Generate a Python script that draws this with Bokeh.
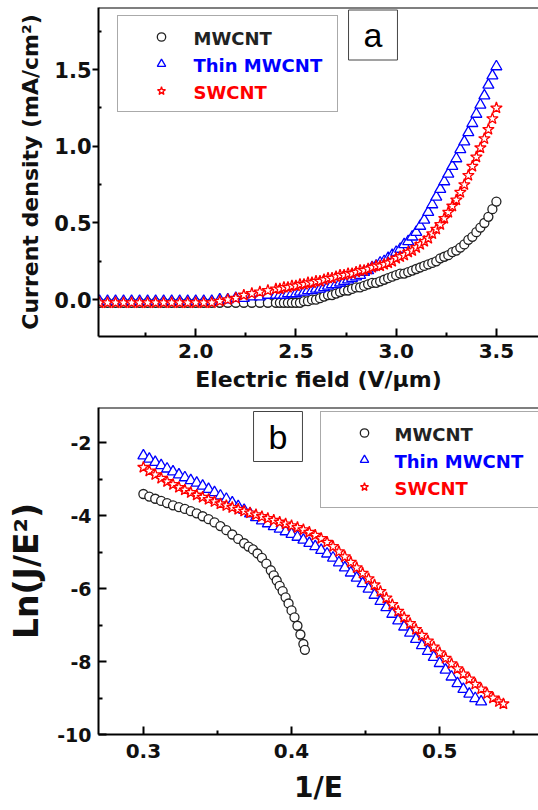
from bokeh.plotting import figure
from bokeh.layouts import column
from bokeh.models import (Range1d, FixedTicker, Legend, LegendItem, Label, Span,
                          PrintfTickFormatter)
from bokeh.embed import file_html
from bokeh.resources import INLINE

FONT = "DejaVu Sans"

# ---------------- panel a data: current density vs electric field ----------------
E_field = [1.52, 1.56, 1.60, 1.64, 1.68, 1.72, 1.76, 1.80, 1.84, 1.88, 1.92, 1.96,
           2.00, 2.04, 2.08, 2.12, 2.16, 2.20, 2.24, 2.28, 2.32, 2.36, 2.40,
           2.42, 2.44, 2.46, 2.48, 2.50, 2.52, 2.54, 2.56, 2.58, 2.60,
           2.62, 2.64, 2.66, 2.68, 2.70, 2.72, 2.74, 2.76, 2.78, 2.80,
           2.82, 2.84, 2.86, 2.88, 2.90, 2.92, 2.94, 2.96, 2.98, 3.00,
           3.02, 3.04, 3.06, 3.08, 3.10, 3.12, 3.14, 3.16, 3.18, 3.20,
           3.22, 3.24, 3.26, 3.28, 3.30, 3.32, 3.34, 3.36, 3.38, 3.40,
           3.42, 3.44, 3.46, 3.48, 3.50]

J_mwcnt = [-0.02, -0.02, -0.02, -0.02, -0.02, -0.02, -0.02, -0.02, -0.02, -0.02, -0.02, -0.02,
           -0.02, -0.02, -0.02, -0.02, -0.02, -0.02, -0.02, -0.02, -0.02, -0.02, -0.02,
           -0.02, -0.02, -0.02, -0.02, -0.02, -0.02, -0.01, -0.01, 0.00, 0.00,
           0.01, 0.02, 0.03, 0.03, 0.04, 0.05, 0.06, 0.06, 0.07, 0.08,
           0.08, 0.09, 0.10, 0.11, 0.11, 0.12, 0.13, 0.14, 0.15, 0.16,
           0.17, 0.17, 0.18, 0.19, 0.20, 0.21, 0.22, 0.23, 0.24, 0.25,
           0.27, 0.28, 0.29, 0.31, 0.32, 0.34, 0.36, 0.39, 0.41, 0.44,
           0.47, 0.50, 0.54, 0.59, 0.64]

J_thin = [-0.01, -0.01, -0.01, -0.01, -0.01, -0.01, -0.01, -0.01, -0.01, -0.01, -0.01, -0.01,
          -0.01, -0.01, -0.01, 0.00, 0.00, 0.01, 0.01, 0.02, 0.02, 0.03, 0.03,
          0.03, 0.03, 0.04, 0.04, 0.04, 0.05, 0.05, 0.06, 0.06, 0.07,
          0.07, 0.08, 0.09, 0.10, 0.10, 0.11, 0.12, 0.13, 0.14, 0.15,
          0.16, 0.18, 0.19, 0.21, 0.22, 0.24, 0.25, 0.27, 0.29, 0.31,
          0.33, 0.36, 0.38, 0.41, 0.44, 0.48, 0.52, 0.57, 0.62, 0.67,
          0.72, 0.77, 0.82, 0.87, 0.92, 0.98, 1.03, 1.09, 1.15, 1.21,
          1.27, 1.33, 1.40, 1.46, 1.52]

J_swcnt = [-0.02, -0.02, -0.02, -0.02, -0.02, -0.02, -0.02, -0.02, -0.02, -0.02, -0.02, -0.02,
           -0.02, -0.02, -0.02, -0.01, 0.00, 0.01, 0.03, 0.04, 0.05, 0.06, 0.07,
           0.07, 0.08, 0.08, 0.09, 0.09, 0.10, 0.10, 0.11, 0.11, 0.12,
           0.12, 0.13, 0.14, 0.14, 0.15, 0.16, 0.16, 0.17, 0.17, 0.18,
           0.19, 0.19, 0.20, 0.21, 0.22, 0.22, 0.23, 0.24, 0.25, 0.27,
           0.28, 0.29, 0.31, 0.32, 0.34, 0.36, 0.38, 0.40, 0.43, 0.46,
           0.49, 0.53, 0.57, 0.61, 0.65, 0.70, 0.75, 0.81, 0.87, 0.93,
           0.99, 1.05, 1.11, 1.18, 1.25]

# ---------------- panel b data: Ln(J/E^2) vs 1/E ----------------
invE_mwcnt = [0.300, 0.304, 0.308, 0.312, 0.316, 0.320, 0.324, 0.328, 0.332, 0.336,
              0.340, 0.344, 0.348, 0.352, 0.356, 0.360, 0.364, 0.368, 0.371, 0.374,
              0.377, 0.380, 0.383, 0.386, 0.388, 0.390, 0.392, 0.394, 0.396, 0.398,
              0.400, 0.402, 0.404, 0.406, 0.408, 0.409]
LnJ_mwcnt = [-3.41, -3.48, -3.54, -3.60, -3.66, -3.72, -3.77, -3.82, -3.88, -3.94,
             -4.02, -4.10, -4.19, -4.29, -4.40, -4.52, -4.64, -4.76, -4.85, -4.93,
             -5.04, -5.16, -5.32, -5.50, -5.64, -5.78, -5.93, -6.07, -6.24, -6.41,
             -6.60, -6.79, -7.02, -7.26, -7.52, -7.68]

invE_thin = [0.300, 0.304, 0.308, 0.312, 0.316, 0.320, 0.324, 0.328, 0.332, 0.336,
             0.340, 0.344, 0.348, 0.352, 0.356, 0.360, 0.364, 0.368, 0.372, 0.376,
             0.380, 0.384, 0.388, 0.392, 0.396, 0.400, 0.404, 0.408, 0.412, 0.416,
             0.420, 0.424, 0.428, 0.432, 0.436, 0.440, 0.444, 0.448, 0.452, 0.456,
             0.460, 0.464, 0.468, 0.472, 0.476, 0.480, 0.484, 0.488, 0.492, 0.496,
             0.500, 0.504, 0.508, 0.512, 0.516, 0.520, 0.524, 0.528]
LnJ_thin = [-2.36, -2.45, -2.54, -2.63, -2.72, -2.80, -2.88, -2.96, -3.04, -3.11,
            -3.19, -3.28, -3.37, -3.46, -3.55, -3.65, -3.75, -3.85, -3.95, -4.05,
            -4.14, -4.22, -4.30, -4.37, -4.44, -4.51, -4.59, -4.67, -4.76, -4.85,
            -4.95, -5.05, -5.16, -5.29, -5.43, -5.57, -5.71, -5.86, -6.01, -6.18,
            -6.35, -6.52, -6.70, -6.88, -7.05, -7.22, -7.39, -7.56, -7.72, -7.88,
            -8.05, -8.23, -8.42, -8.60, -8.76, -8.89, -9.01, -9.10]

invE_swcnt = [0.300, 0.304, 0.308, 0.312, 0.316, 0.320, 0.324, 0.328, 0.332, 0.336,
              0.340, 0.344, 0.348, 0.352, 0.356, 0.360, 0.364, 0.368, 0.372, 0.376,
              0.380, 0.384, 0.388, 0.392, 0.396, 0.400, 0.404, 0.408, 0.412, 0.416,
              0.420, 0.424, 0.428, 0.432, 0.436, 0.440, 0.444, 0.448, 0.452, 0.456,
              0.460, 0.464, 0.468, 0.472, 0.476, 0.480, 0.484, 0.488, 0.492, 0.496,
              0.500, 0.504, 0.508, 0.512, 0.516, 0.520, 0.524, 0.528, 0.532, 0.536,
              0.540, 0.543]
LnJ_swcnt = [-2.68, -2.78, -2.88, -2.98, -3.07, -3.15, -3.23, -3.30, -3.37, -3.44,
             -3.50, -3.56, -3.62, -3.68, -3.73, -3.78, -3.83, -3.88, -3.93, -3.98,
             -4.03, -4.08, -4.13, -4.18, -4.23, -4.28, -4.33, -4.39, -4.46, -4.54,
             -4.63, -4.73, -4.85, -4.99, -5.13, -5.28, -5.43, -5.58, -5.73, -5.90,
             -6.08, -6.26, -6.44, -6.62, -6.79, -6.96, -7.12, -7.28, -7.44, -7.60,
             -7.76, -7.91, -8.06, -8.20, -8.34, -8.48, -8.62, -8.75, -8.88, -9.00,
             -9.10, -9.16]

series_names = ["MWCNT", "Thin MWCNT", "SWCNT"]
series_colors = ["#222222", "#0000ff", "#ff0000"]
series_markers = ["circle", "triangle", "star"]
series_sizes = [9, 11, 12]

# axis settings
xa_range = (1.515, 3.71)
ya_range = (-0.24, 1.905)
xa_ticks = [2.0, 2.5, 3.0, 3.5]
xa_minor = [1.75, 2.25, 2.75, 3.25]
ya_ticks = [0.0, 0.5, 1.0, 1.5]
ya_minor = [0.25, 0.75, 1.25, 1.75]

xb_range = (0.2697, 0.5667)
yb_range = (-10.0, -1.04)
xb_ticks = [0.3, 0.4, 0.5]
xb_minor = [0.35, 0.45, 0.55]
yb_ticks = [-10, -8, -6, -4, -2]
yb_minor = [-9, -7, -5, -3]


def make_fig(height, xr, yr, top, bottom, left):
    p = figure(width=538, height=height, x_range=Range1d(*xr), y_range=Range1d(*yr),
               output_backend="svg", toolbar_location=None,
               min_border_left=left, min_border_right=0,
               min_border_top=top, min_border_bottom=bottom)
    p.outline_line_color = None
    p.xgrid.visible = False
    p.ygrid.visible = False
    p.background_fill_color = "white"
    p.border_fill_color = "white"
    p.add_layout(Span(location=yr[1], dimension="width", line_color="black", line_width=2))
    for ax in (p.xaxis[0], p.yaxis[0]):
        ax.axis_line_width = 2
        ax.axis_line_color = "black"
        ax.major_tick_line_width = 2
        ax.minor_tick_line_width = 2
        ax.major_tick_line_color = "black"
        ax.minor_tick_line_color = "black"
        ax.major_label_text_font = FONT
        ax.major_label_text_font_style = "bold"
        ax.major_label_text_color = "#111111"
        ax.axis_label_text_font = FONT
        ax.axis_label_text_font_style = "bold"
        ax.axis_label_text_color = "#111111"
    return p


def add_series(p, xs, ys_list):
    rs = []
    for xs_i, ys, c, m, s in zip(xs, ys_list, series_colors, series_markers, series_sizes):
        r = p.scatter(xs_i, ys, marker=m, size=s, line_color=c, fill_color="white",
                      line_width=1.3)
        rs.append(r)
    return rs


def add_legend(p, rs, loc, text_x, text_ys):
    for n, c, ty in zip(series_names, series_colors, text_ys):
        p.add_layout(Label(x=text_x, y=ty, x_units="screen", y_units="screen", text=n,
                           text_color=c, text_font=FONT, text_font_size="18px",
                           text_font_style="bold", text_baseline="middle",
                           text_align="left"))
    items = [LegendItem(label=n, renderers=[r]) for n, r in zip(series_names, rs)]
    lg = Legend(items=items, location=loc, orientation="vertical", margin=0,
                padding=10, spacing=6, glyph_width=66, glyph_height=21, label_height=21,
                label_standoff=4, label_text_font=FONT, label_text_font_size="18px",
                label_text_font_style="bold", label_text_alpha=0,
                border_line_color="#555555", border_line_width=1,
                background_fill_alpha=0)
    p.add_layout(lg)


def add_tag(p, text, x, y):
    p.add_layout(Label(x=x, y=y, x_units="screen", y_units="screen", text=text,
                       text_align="center", text_baseline="middle",
                       text_font="Liberation Sans", text_font_size="34px",
                       text_color="black", border_line_color="#444444",
                       border_line_width=1, background_fill_color="white",
                       padding=dict(left=15, right=15, top=6, bottom=6)))


# ---------------- panel a ----------------
pa = make_fig(406, xa_range, ya_range, 7, 70, 98)
ra = add_series(pa, [E_field, E_field, E_field], [J_mwcnt, J_thin, J_swcnt])
xa = pa.xaxis[0]
xa.ticker = FixedTicker(ticks=xa_ticks, minor_ticks=xa_minor)
xa.formatter = PrintfTickFormatter(format="%.1f")
xa.major_tick_in, xa.major_tick_out = 8, 0
xa.minor_tick_in, xa.minor_tick_out = 4, 0
xa.major_label_text_font_size = "20px"
xa.major_label_standoff = 7
xa.axis_label = "Electric field (V/µm)"
xa.axis_label_text_font_size = "22px"
xa.axis_label_standoff = 6
ya = pa.yaxis[0]
ya.ticker = FixedTicker(ticks=ya_ticks, minor_ticks=ya_minor)
ya.formatter = PrintfTickFormatter(format="%.1f")
ya.major_tick_in, ya.major_tick_out = 0, 6
ya.minor_tick_in, ya.minor_tick_out = 3, 0
ya.major_label_text_font_size = "21px"
ya.major_label_standoff = 1
ya.axis_label = "Current density (mA/cm²)"
ya.axis_label_text_font_size = "22px"
ya.axis_label_standoff = 8
add_legend(pa, ra, (19, 224), 95, [298.5, 271.5, 244.5])
add_tag(pa, "a", 274.5, 301.5)

# ---------------- panel b ----------------
pb = make_fig(404, xb_range, yb_range, 1, 76, 97)
rb = add_series(pb, [invE_mwcnt, invE_thin, invE_swcnt], [LnJ_mwcnt, LnJ_thin, LnJ_swcnt])
xb = pb.xaxis[0]
xb.ticker = FixedTicker(ticks=xb_ticks, minor_ticks=xb_minor)
xb.formatter = PrintfTickFormatter(format="%.1f")
xb.major_tick_in, xb.major_tick_out = 8, 0
xb.minor_tick_in, xb.minor_tick_out = 4, 0
xb.major_label_text_font_size = "20px"
xb.major_label_standoff = 9
xb.axis_label = "1/E"
xb.axis_label_text_font_size = "28px"
xb.axis_label_standoff = 10
yb = pb.yaxis[0]
yb.ticker = FixedTicker(ticks=yb_ticks, minor_ticks=yb_minor)
yb.formatter = PrintfTickFormatter(format="%d")
yb.major_tick_in, yb.major_tick_out = 8, 0
yb.minor_tick_in, yb.minor_tick_out = 4, 0
yb.major_label_text_font_size = "19px"
yb.major_label_standoff = 7
yb.axis_label = "Ln(J/E²)"
yb.axis_label_text_font_size = "33px"
yb.axis_label_standoff = 8
add_legend(pb, rb, (222, 226), 296, [300.5, 273.5, 246.5])
add_tag(pb, "b", 179.5, 298)

layout = column(pa, pb, spacing=0)
open("out.html", "w").write(file_html(layout, INLINE))
